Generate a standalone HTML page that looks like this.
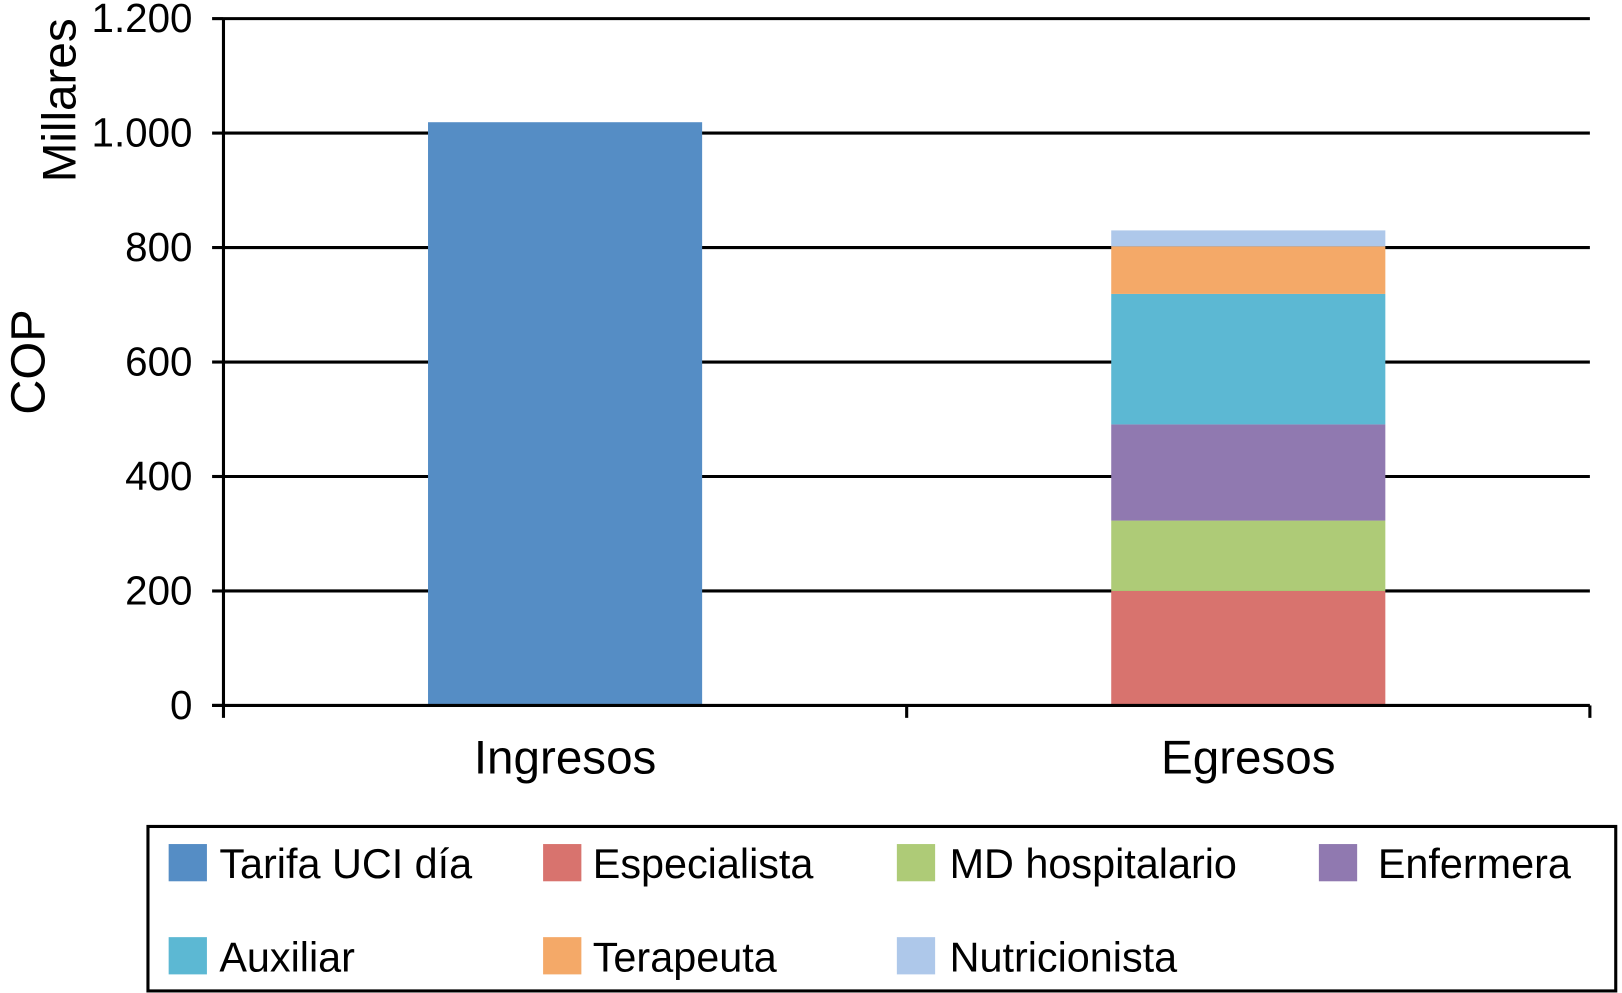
<!DOCTYPE html>
<html><head><meta charset="utf-8"><style>
html,body{margin:0;padding:0;background:#fff;}
svg{display:block;font-family:"Liberation Sans",Arial,sans-serif;}
</style></head><body>
<svg id="chart" width="1622" height="993" viewBox="0 0 1568 960" xmlns="http://www.w3.org/2000/svg">
<g id="grid"></g>
<g id="bars"></g>
<g id="axes"></g>
<text transform="translate(43,350) rotate(-90)" font-size="47" text-anchor="middle">COP</text>
<text transform="translate(73,97) rotate(-90)" font-size="46" text-anchor="middle">Millares</text>
<rect x="143" y="799" width="1419" height="159" fill="none" stroke="#000" stroke-width="3"/>
<g id="legend"></g>
</svg>
<script>
const categories = ["Ingresos", "Egresos"];
const seriesNames = ["Tarifa UCI día","Especialista","MD hospitalario","Enfermera","Auxiliar","Terapeuta","Nutricionista"];
const seriesColors = ["#558dc5","#d8736e","#aecb77","#9079b0","#5cb8d3","#f4a968","#aec8ea"];
const ingresosValues = [1019, 0, 0, 0, 0, 0, 0];
const egresosValues = [0, 200, 123, 168, 228, 83, 28];
const yTicks = [0, 200, 400, 600, 800, 1000, 1200];
const yTickLabels = ["0","200","400","600","800","1.000","1.200"];

const NS = "http://www.w3.org/2000/svg";
const x0 = 216, x1 = 1537, yBot = 682, yTop = 18, yMax = 1200;
const yScale = v => yBot - v / yMax * (yBot - yTop);
const catW = (x1 - x0) / categories.length;
const xCenter = i => x0 + catW * (i + 0.5);
const barW = 265;
function mk(tag, attrs, parent) {
  const e = document.createElementNS(NS, tag);
  for (const k in attrs) e.setAttribute(k, attrs[k]);
  parent.appendChild(e);
  return e;
}
const grid = document.getElementById("grid"), bars = document.getElementById("bars"), axes = document.getElementById("axes"), legend = document.getElementById("legend");
yTicks.forEach((t, i) => {
  const y = yScale(t);
  if (t > 0) {
    const g = mk("line", {x1: x0, x2: x1, y1: y, y2: y, stroke: "#000", "stroke-width": 3}, grid);
    
    
  }
  const tk = mk("line", {x1: 205, x2: x0, y1: y, y2: y, stroke: "#000", "stroke-width": 3}, axes);
  
  
  const lb = mk("text", {x: 186, y: y + 13, "font-size": 39, "text-anchor": "end"}, axes);
  lb.textContent = yTickLabels[i];
  
  
});
const allVals = [ingresosValues, egresosValues];
categories.forEach((c, ci) => {
  let acc = 0;
  const vals = allVals[ci];
  vals.forEach((v, si) => {
    if (v <= 0) return;
    const yT = yScale(acc + v), yB = yScale(acc);
    const r = mk("rect", {x: xCenter(ci) - barW / 2, y: yT, width: barW, height: yB - yT, fill: seriesColors[si]}, bars);
    
    
    acc += v;
  });
  const lb = mk("text", {x: xCenter(ci), y: 748, "font-size": 46, "text-anchor": "middle"}, axes);
  lb.textContent = c;
  
  
});
const ax = mk("line", {x1: x0, x2: x0, y1: yTop, y2: yBot, stroke: "#000", "stroke-width": 3}, axes);


const bx = mk("line", {x1: x0 - 11, x2: x1, y1: yBot, y2: yBot, stroke: "#000", "stroke-width": 3}, axes);


for (let i = 0; i <= categories.length; i++) {
  const xx = x0 + catW * i;
  const t = mk("line", {x1: xx, x2: xx, y1: yBot, y2: 694, stroke: "#000", "stroke-width": 3}, axes);
  
  
}
const swX = [163, 525, 867, 1275], txX = [212, 573, 918, 1332], rowY = [816, 906];
seriesNames.forEach((n, i) => {
  const col = i % 4, row = Math.floor(i / 4);
  const s = mk("rect", {x: swX[col], y: rowY[row], width: 37, height: 36, fill: seriesColors[i]}, legend);
  
  
  const t = mk("text", {x: txX[col], y: rowY[row] + 33, "font-size": 40}, legend);
  t.textContent = n;
  
  
});
</script>
</body></html>
